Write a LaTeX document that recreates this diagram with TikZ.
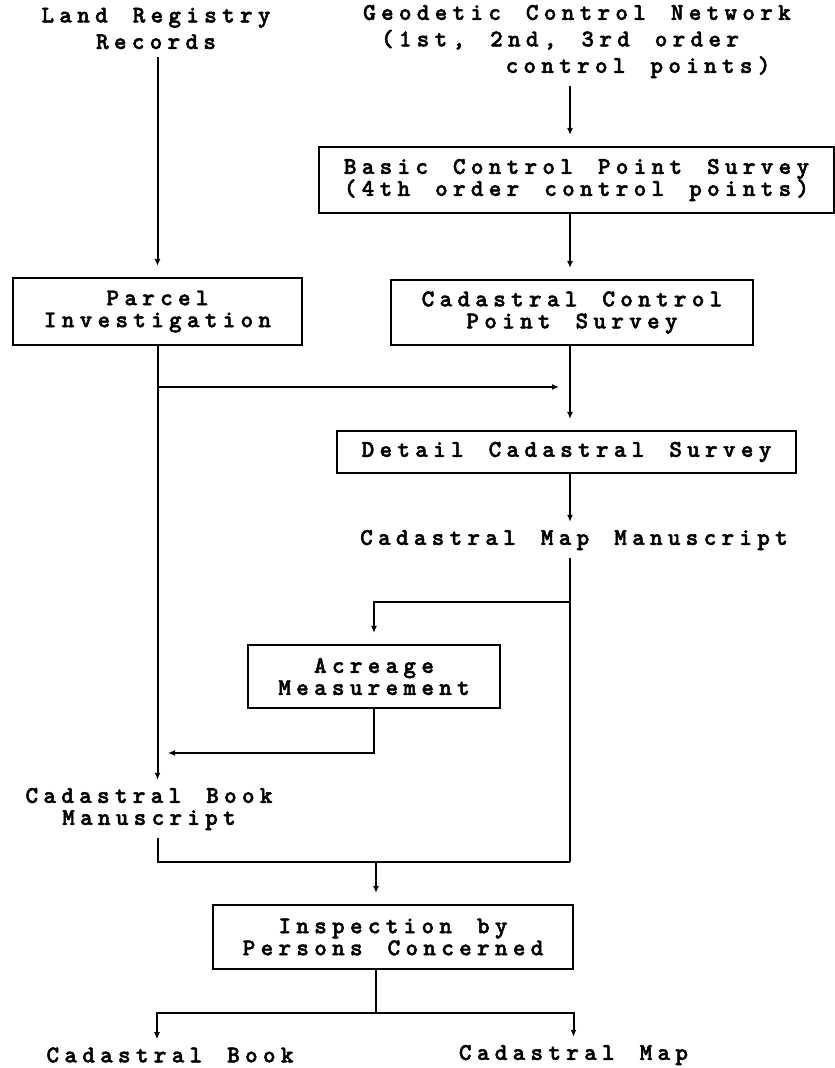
\documentclass[tikz,border=0pt]{standalone}
\usepackage{fontspec}
\newfontfamily\cadfont{lmmonolt10-bold.otf}[LetterSpace=22,WordSpace=1.4,FakeBold=2]
\usetikzlibrary{arrows.meta}

\tikzset{
  every node/.style={font=\cadfont\fontsize{24}{22}\selectfont},
  box/.style={draw,line width=2.2pt,inner sep=0pt,align=center},
  lbl/.style={inner xsep=0pt,inner ysep=8pt,align=center},
  toptext/.style={font=\cadfont\fontsize{24}{26.5}\selectfont},
  flow/.style={line width=2pt,-{Latex[length=7pt,width=6pt]},shorten >=11pt},
  tolbl/.style={line width=2pt,-{Latex[length=7pt,width=6pt]}},
  link/.style={line width=2pt}
}

\begin{document}
\begin{tikzpicture}[x=1pt,y=-1pt]
  \useasboundingbox (0,0) rectangle (835,1068);

  \node[lbl,toptext] (land) at (156,28.5) {Land Registry\\Records};
  \node[lbl,toptext,align=left,anchor=west] (geo) at (363,41.5)
    {Geodetic Control Network\\\hspace*{17.8pt}(1st, 2nd, 3rd order\\\hspace*{142.4pt}control points)};
  \node[box,minimum width=515pt,minimum height=66pt] (basic) at (576.5,180)
    {Basic Control Point Survey\\(4th order control points)};
  \node[box,minimum width=289pt,minimum height=67pt] (parcel) at (157.5,311.5) {Parcel\\Investigation};
  \node[box,minimum width=362pt,minimum height=65pt] (ccp) at (572,312.5) {Cadastral Control\\Point Survey};
  \node[box,minimum width=459pt,minimum height=42pt] (detail) at (566.5,452) {Detail Cadastral Survey};
  \node[lbl] (mapms) at (574,540) {Cadastral Map Manuscript};
  \node[box,minimum width=252pt,minimum height=63pt] (acreage) at (374,676.5) {Acreage\\Measurement};
  \node[lbl] (bookms) at (149,809) {Cadastral Book\\Manuscript};
  \node[box,minimum width=360pt,minimum height=64pt] (inspect) at (393,937) {Inspection by\\Persons Concerned};
  \node[lbl] (book) at (170,1055) {Cadastral Book};
  \node[lbl] (map) at (573.5,1055) {Cadastral Map};

  \coordinate (lcol) at (157,0);
  \coordinate (rcol) at (570,0);
  \coordinate (icol) at (376,0);
  \coordinate (j1) at (570,387);
  \coordinate (j2) at (570,602);
  \coordinate (j3) at (570,862);
  \coordinate (j4) at (157,753);
  \coordinate (j5) at (376,1013);

  \draw[flow] (parcel.north |- land.south) -- (parcel.north);
  \draw[flow] (rcol |- geo.south) -- (rcol |- basic.north);
  \draw[flow] (rcol |- basic.south) -- (rcol |- ccp.north);
  \draw[tolbl] (parcel.south) -- (parcel.south |- bookms.north);
  \draw[flow] (parcel.south |- j1) -- (j1);
  \draw[flow] (rcol |- ccp.south) -- (rcol |- detail.north);
  \draw[tolbl] (rcol |- detail.south) -- (rcol |- mapms.north);
  \draw[link] (rcol |- mapms.south) -- (j3);
  \draw[flow] (j2) -| (acreage.north);
  \draw[flow] (acreage.south) |- (j4);
  \draw[link] (parcel.south |- bookms.south) |- (j3);
  \draw[flow] (icol |- j3) -- (icol |- inspect.north);
  \draw[link] (icol |- inspect.south) -- (j5);
  \draw[tolbl] (j5) -| (lcol |- book.north);
  \draw[tolbl] (j5) -| (map.north);
\end{tikzpicture}
\end{document}
